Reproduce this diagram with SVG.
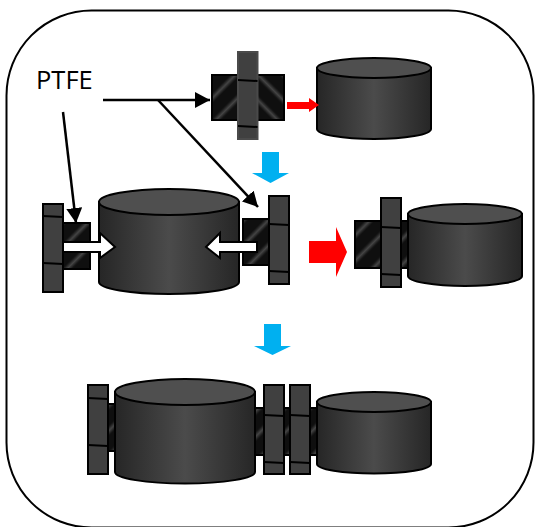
<svg xmlns="http://www.w3.org/2000/svg" width="535" height="527" viewBox="0 0 535 527">
<defs>
<linearGradient id="cyl"><stop offset="0" stop-color="#262626"/><stop offset="0.5" stop-color="#4b4b4b"/><stop offset="1" stop-color="#262626"/></linearGradient>
<linearGradient id="st"><stop offset="0" stop-color="#0f0f0f"/><stop offset="0.5" stop-color="#444"/><stop offset="1" stop-color="#0f0f0f"/></linearGradient>
<pattern id="hatch" width="18" height="18" patternUnits="userSpaceOnUse" patternTransform="rotate(45)"><rect width="18" height="18" fill="#0f0f0f"/><rect width="7" height="18" fill="url(#st)"/></pattern>
<pattern id="hatch2" width="18" height="18" patternUnits="userSpaceOnUse" patternTransform="rotate(-45)"><rect width="18" height="18" fill="#0f0f0f"/><rect width="7" height="18" fill="url(#st)"/></pattern>
<marker id="ah" markerUnits="userSpaceOnUse" markerWidth="16" markerHeight="16" refX="15" refY="8" orient="auto"><path d="M0 0L15 8L0 16Z" fill="#000"/></marker>
</defs>
<style>
.fl{fill:#404040;stroke:#000;stroke-width:2}
.ln{fill:none;stroke:#000;stroke-width:2}
.pt{stroke:#000;stroke-width:2}
.top{fill:#4f4f4f;stroke:#000;stroke-width:2}
.body{fill:url(#cyl);stroke:#000;stroke-width:2}
.w{fill:#fff;stroke:#000;stroke-width:2}
.conn{fill:none;stroke:#000;stroke-width:2.500}
.blue{fill:#00b0f0}.red{fill:#f00}
text{font-family:"Open Sans","Liberation Sans",sans-serif;font-size:25.500px;fill:#000}
</style>
<rect id="frame" x="6.500" y="10.500" width="527" height="517" rx="85" ry="85" fill="#fff" stroke="#000" stroke-width="2"/>
<g id="step1-assembly">
<rect x="212" y="75" width="27" height="45" fill="url(#hatch)" class="pt"/>
<rect x="257" y="75" width="27" height="45" fill="url(#hatch2)" class="pt"/>
<rect x="238" y="52" width="19.500" height="87" class="fl" style="stroke:#4a4a4a"/>
<path class="ln" d="M238 80L257.500 81M238 126L257.500 127"/>
</g>
<g id="step1-cylinder">
<path class="body" d="M317 68V129A57 10 0 0 0 431 129V68Z"/><ellipse class="top" cx="374" cy="68" rx="57" ry="10"/>
</g>
<g id="step2-left">
<rect x="63" y="223" width="27" height="46" fill="url(#hatch)" class="pt"/>
<rect x="43" y="204" width="20" height="88" class="fl"/>
<path class="ln" d="M43 216L63 217M43 263L63 264"/>
</g>
<g id="step2-cylinder">
<path class="body" d="M99 202V282A70 12 0 0 0 239 282V202Z"/><ellipse class="top" cx="169" cy="202" rx="70" ry="13"/>
</g>
<g id="step2-right">
<rect x="243" y="219" width="26" height="46" fill="url(#hatch)" class="pt"/>
<rect x="269" y="196" width="20" height="88" class="fl"/>
<path class="ln" d="M269 224L289 225M269 271L289 272"/>
</g>
<g id="step3">
<rect x="355" y="221" width="54" height="47" fill="url(#hatch)" class="pt"/>
<rect x="381" y="198" width="20" height="89" class="fl"/>
<path class="ln" d="M381 227L401 228M381 274L401 275"/>
<path class="body" d="M408 214V276A57 10 0 0 0 522 276V214Z"/><ellipse class="top" cx="465" cy="214" rx="57" ry="10"/>
</g>
<g id="step4">
<rect x="108" y="404" width="8" height="47" fill="url(#hatch)" class="pt"/>
<rect x="88" y="385" width="20" height="89" class="fl"/>
<path class="ln" d="M88 398L108 399M88 445L108 446"/>
<rect x="255" y="408" width="63" height="47" fill="url(#hatch)" class="pt"/>
<path class="body" d="M115 392V472A70 11.500 0 0 0 255 472V392Z"/><ellipse class="top" cx="185" cy="392" rx="70" ry="13"/>
<rect x="264" y="385" width="20" height="89" class="fl"/>
<path class="ln" d="M264 415L284 416M264 462L284 463"/>
<rect x="290" y="385" width="20" height="89" class="fl"/>
<path class="ln" d="M290 415L310 416M290 462L310 463"/>
<path class="body" d="M317 402V464A57 9.500 0 0 0 431 464V402Z"/><ellipse class="top" cx="374" cy="402" rx="57" ry="10"/>
</g>
<g id="connectors">
<path class="w" d="M63 242H100V233L115 247L100 258V252H63Z"/>
<path class="w" d="M257 242H220V233L206 247L220 258V252H257Z"/>
<path class="red" d="M287 102H309V98L319 105L309 112V109H287Z"/>
<path class="red" d="M309 241H336V227L347 252L336 277V263H309Z"/>
<path class="blue" d="M262 152H279V173H289L270.500 183L252 173H262Z"/>
<path class="blue" d="M264 324H281V346H291L272.500 355L254 346H264Z"/>
<path class="conn" d="M103 100H210" marker-end="url(#ah)"/>
<path class="conn" d="M158 100L258 207" marker-end="url(#ah)"/>
<path class="conn" d="M63 112L76 223" marker-end="url(#ah)"/>
</g>
<text id="ptfe" x="36" y="89">PTFE</text>
</svg>
